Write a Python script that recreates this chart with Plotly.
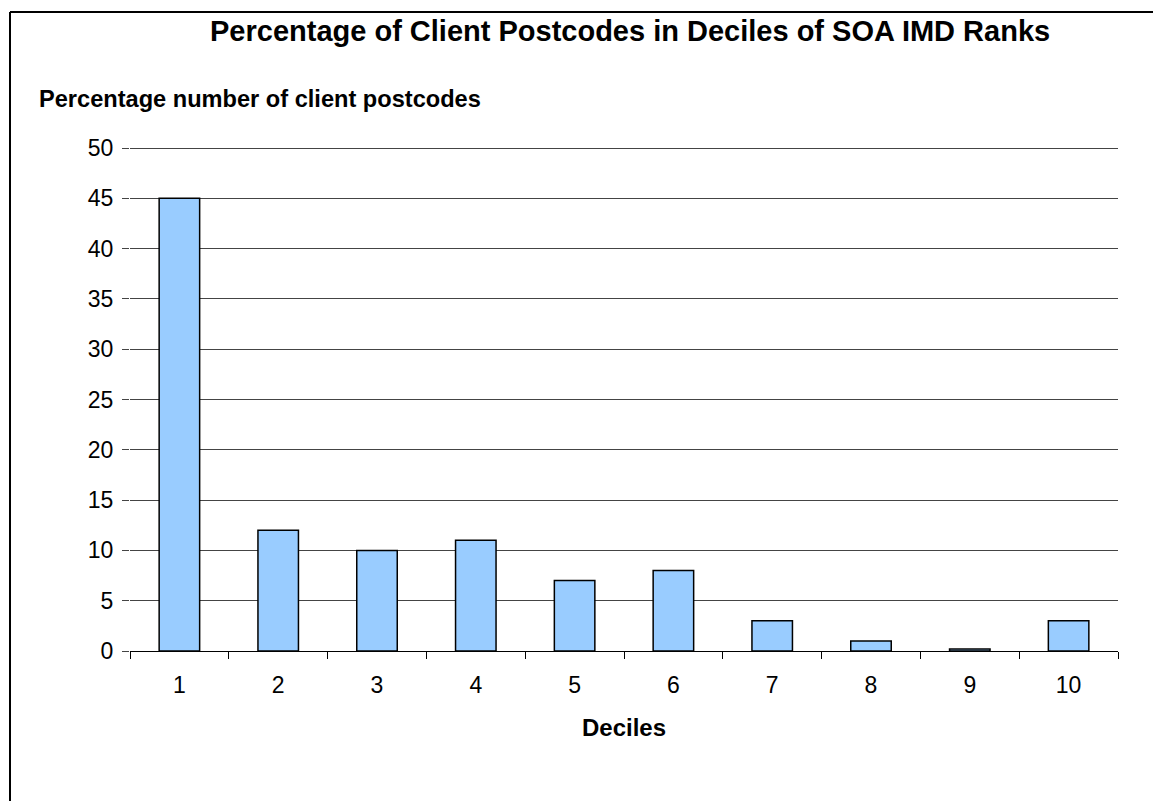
import plotly.graph_objects as go

deciles = ["1", "2", "3", "4", "5", "6", "7", "8", "9", "10"]
percentages = [45, 12, 10, 11, 7, 8, 3, 1, 0.2, 3]
y_ticks = [0, 5, 10, 15, 20, 25, 30, 35, 40, 45, 50]

title_text = "Percentage of Client Postcodes in Deciles of SOA IMD Ranks"
y_title = "Percentage number of client postcodes"
x_title = "Deciles"

W, H = 1153, 801
PL, PR, PT, PB = 130, 1118, 143, 651  # plot area in screen px
L, R, T, B = PL, W - PR, PT, H - PB
pw, ph = W - L - R, H - T - B

def px(x):
    return (x - L) / pw

def py(y):
    return (H - B - y) / ph

FONT = "Liberation Sans, Arial, sans-serif"

fig = go.Figure(
    go.Bar(
        x=deciles,
        y=percentages,
        marker=dict(color="#99CCFF", line=dict(color="#000000", width=1.5)),
    )
)

fig.update_layout(
    width=W,
    height=H,
    margin=dict(l=L, r=R, t=T, b=B),
    paper_bgcolor="white",
    plot_bgcolor="white",
    bargap=0.59,
    showlegend=False,
    font=dict(family=FONT, color="black"),
    xaxis=dict(
        type="category",
        tickson="boundaries",
        ticks="outside",
        ticklen=7,
        tickwidth=1,
        tickcolor="#000000",
        showline=True,
        linecolor="#000000",
        linewidth=1,
        showgrid=False,
        tickfont=dict(size=23, family=FONT),
        ticklabelstandoff=13,
    ),
    yaxis=dict(
        range=[0, 50.5],
        tickvals=y_ticks,
        ticks="outside",
        ticklen=7,
        tickwidth=1,
        tickcolor="#444444",
        showgrid=True,
        gridcolor="#444444",
        gridwidth=1,
        showline=False,
        zeroline=False,
        tickfont=dict(size=23, family=FONT),
        ticklabelstandoff=4,
    ),
    annotations=[
        dict(text="<b>" + title_text + "</b>", xref="paper", yref="paper",
             x=px(630), y=py(31), xanchor="center", yanchor="middle",
             showarrow=False, font=dict(size=29, family=FONT)),
        dict(text="<b>" + y_title + "</b>", xref="paper", yref="paper",
             x=px(37), y=py(99), xanchor="left", yanchor="middle",
             showarrow=False, font=dict(size=23.6, family=FONT)),
        dict(text="<b>" + x_title + "</b>", xref="paper", yref="paper",
             x=px(624), y=py(727), xanchor="center", yanchor="middle",
             showarrow=False, font=dict(size=24, family=FONT)),
    ],
    shapes=[
        dict(type="line", xref="paper", yref="paper",
             x0=px(10), x1=px(1170), y0=py(12), y1=py(12),
             line=dict(color="black", width=2)),
        dict(type="line", xref="paper", yref="paper",
             x0=px(10), x1=px(10), y0=py(12), y1=py(820),
             line=dict(color="black", width=2)),
    ],
)

fig.write_html(
    "out.html",
    config={"displayModeBar": False},
    post_script="document.body.style.margin='0';document.body.style.overflow='hidden';",
)
